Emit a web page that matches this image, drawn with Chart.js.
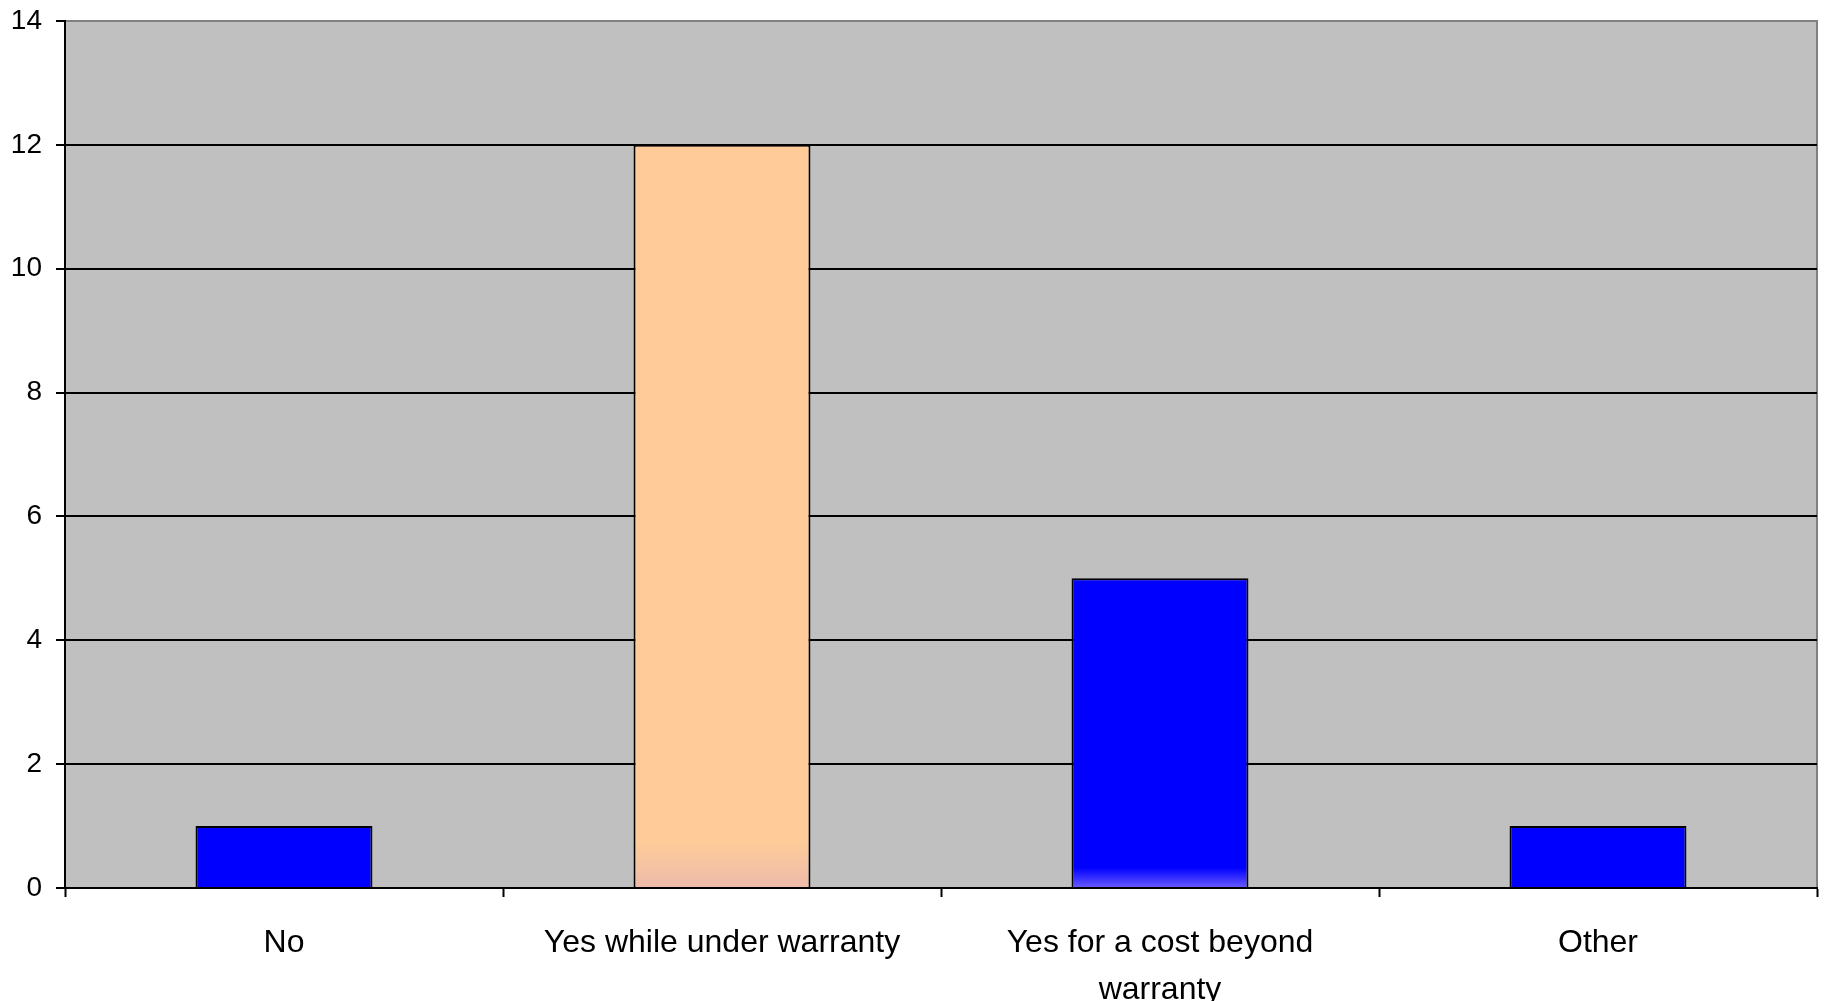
<!DOCTYPE html>
<html>
<head>
<meta charset="utf-8">
<script src="https://cdn.jsdelivr.net/npm/chart.js@4/dist/chart.umd.min.js"></script>
<style>
  html, body { margin: 0; padding: 0; background: #ffffff; }
  #wrap { width: 1824px; height: 1001px; }
</style>
</head>
<body>
<div id="wrap"><canvas id="c" width="1824" height="1001"></canvas></div>
<script>
// Survey answers and response counts
const categories = ['No', 'Yes while under warranty', ['Yes for a cost beyond', 'warranty'], 'Other'];
const counts = [1, 12, 5, 1];
const yTicks = [0, 2, 4, 6, 8, 10, 12, 14];

// Fill colours per answer: [main colour, lighter tone at the foot of the bar]
const barTones = [
  ['#0000FF', '#0000FF'],
  ['#FFCC99', '#EDBBAA'],
  ['#0000FF', '#6A5CFF'],
  ['#0000FF', '#0000FF']
];

function barFill(ctx) {
  const chart = ctx.chart;
  const [main, foot] = barTones[ctx.dataIndex] || barTones[0];
  const y = chart.scales && chart.scales.y;
  if (!chart.chartArea || !y || ctx.type !== 'data') return main;
  const top = y.getPixelForValue(ctx.raw);
  const base = y.getPixelForValue(0);
  if (!isFinite(top) || !isFinite(base) || top === base) return main;
  const g = chart.ctx.createLinearGradient(0, top, 0, base);
  g.addColorStop(0, main);
  g.addColorStop(0.935, main);
  g.addColorStop(1, foot);
  return g;
}

// Grey plot area with a grey frame
const plotArea = {
  id: 'plotArea',
  beforeDraw(chart) {
    const { ctx, chartArea: a } = chart;
    ctx.save();
    ctx.fillStyle = '#C0C0C0';
    ctx.fillRect(a.left, a.top, a.right - a.left, a.bottom - a.top);
    ctx.strokeStyle = '#808080';
    ctx.lineWidth = 2;
    ctx.strokeRect(a.left, a.top, a.right - a.left, a.bottom - a.top);
    ctx.restore();
  }
};

new Chart(document.getElementById('c'), {
  type: 'bar',
  data: {
    labels: categories,
    datasets: [{
      data: counts,
      backgroundColor: barFill,
      borderColor: '#000000',
      borderWidth: 2,
      borderSkipped: 'start',
      barPercentage: 0.404,
      categoryPercentage: 1.0
    }]
  },
  options: {
    responsive: false,
    animation: false,
    devicePixelRatio: 1,
    layout: { padding: { top: 21, right: 7, left: 0, bottom: 0 } },
    plugins: {
      legend: { display: false },
      tooltip: { enabled: false }
    },
    scales: {
      x: {
        grid: {
          offset: true,
          drawOnChartArea: false,
          drawTicks: true,
          tickLength: 9,
          tickColor: '#000000',
          tickWidth: 2,
          color: '#000000'
        },
        border: { display: true, color: '#000000', width: 2 },
        ticks: {
          color: '#000000',
          font: { family: 'Liberation Sans, Arial, sans-serif', size: 32, lineHeight: 1.48 },
          padding: 22,
          maxRotation: 0,
          autoSkip: false
        },
        afterFit(s) { s.height = 113; s.paddingLeft = 0; s.paddingRight = 0; }
      },
      y: {
        min: 0,
        max: 14,
        afterBuildTicks(s) { s.ticks = yTicks.map(v => ({ value: v })); },
        grid: {
          color: (c) => (c.tick && c.tick.value === 14) ? 'rgba(0,0,0,0)' : '#000000',
          lineWidth: 2,
          drawTicks: true,
          tickLength: 9,
          tickColor: '#000000',
          tickWidth: 2
        },
        border: { display: true, color: '#000000', width: 2 },
        ticks: {
          color: '#000000',
          font: { family: 'Liberation Sans, Arial, sans-serif', size: 28 },
          padding: 14
        },
        afterFit(s) { s.width = 65; s.paddingTop = 0; s.paddingBottom = 0; }
      }
    }
  },
  plugins: [plotArea]
});
</script>
</body>
</html>
